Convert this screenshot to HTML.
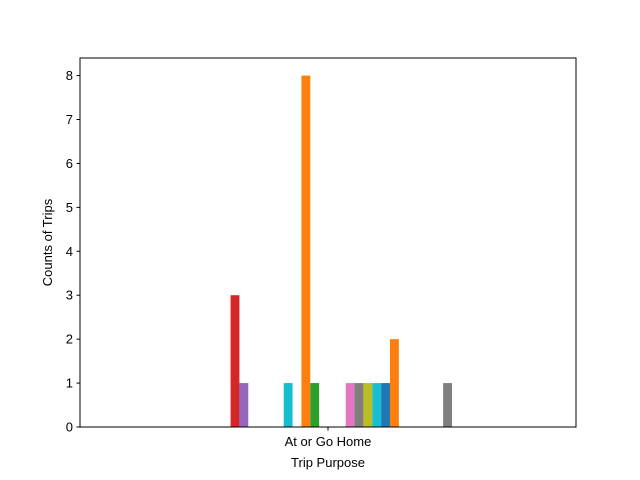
<!DOCTYPE html>
<html><head><meta charset="utf-8"><style>
body{margin:0;background:#fff;}
svg{display:block;font-family:"Liberation Sans","DejaVu Sans",sans-serif;}
</style></head><body>
<svg id="chart" width="640" height="480" viewBox="0 0 640 480">
<rect width="640" height="480" fill="#fff"/>
<g id="bars"></g>
<g id="yticks"></g>
<rect x="80" y="58" width="496" height="369" fill="none" stroke="#000" stroke-width="1"/>
<line x1="328" y1="427" x2="328" y2="430.5" stroke="#000"/>
<text x="328" y="446" font-size="13" text-anchor="middle">At or Go Home</text>
<text x="328" y="467" font-size="13" text-anchor="middle">Trip Purpose</text>
<text transform="translate(52,242.5) rotate(-90)" font-size="13" text-anchor="middle">Counts of Trips</text>
</svg>
<script>
const categories = ["At or Go Home"];
const seriesValues = [0,0,0,3,1,0,0,0,0,1,0,8,1,0,0,0,1,1,1,1,1,2,0,0,0,0,0,1];
const yTickLabels = [0,1,2,3,4,5,6,7,8];
const colors = ["#1f77b4","#ff7f0e","#2ca02c","#d62728","#9467bd","#8c564b","#e377c2","#7f7f7f","#bcbd22","#17becf"];
const NS = "http://www.w3.org/2000/svg";
const plotLeft=80, plotRight=576, plotTop=58, plotBottom=427, yMax=8.4;
const yScale = v => plotBottom - (plotBottom-plotTop)*v/yMax;
const xCenter = i => plotLeft + (plotRight-plotLeft)*(i+0.5)/categories.length;
const groupW = (plotRight-plotLeft)/categories.length*0.5;
const nSeries = seriesValues.length, bw = groupW/nSeries;
const barsG = document.getElementById('bars');
seriesValues.forEach((v,k)=>{
  if(!v) return;
  const r=document.createElementNS(NS,'rect');
  
  
  r.setAttribute('x', xCenter(0)-groupW/2+k*bw);
  r.setAttribute('y', yScale(v));
  r.setAttribute('width', bw);
  r.setAttribute('height', yScale(0)-yScale(v));
  r.setAttribute('fill', colors[k%10]);
  barsG.appendChild(r);
});
const yt=document.getElementById('yticks');
yTickLabels.forEach(t=>{
  const l=document.createElementNS(NS,'line');
  
  
  l.setAttribute('x1',plotLeft-3.5);l.setAttribute('x2',plotLeft);
  l.setAttribute('y1',yScale(t));l.setAttribute('y2',yScale(t));
  l.setAttribute('stroke','#000');
  yt.appendChild(l);
  const tx=document.createElementNS(NS,'text');
  
  
  tx.setAttribute('x',plotLeft-7);tx.setAttribute('y',yScale(t)+4.5);
  tx.setAttribute('font-size','13');tx.setAttribute('text-anchor','end');
  tx.textContent=t;
  yt.appendChild(tx);
});
</script>
</body></html>
